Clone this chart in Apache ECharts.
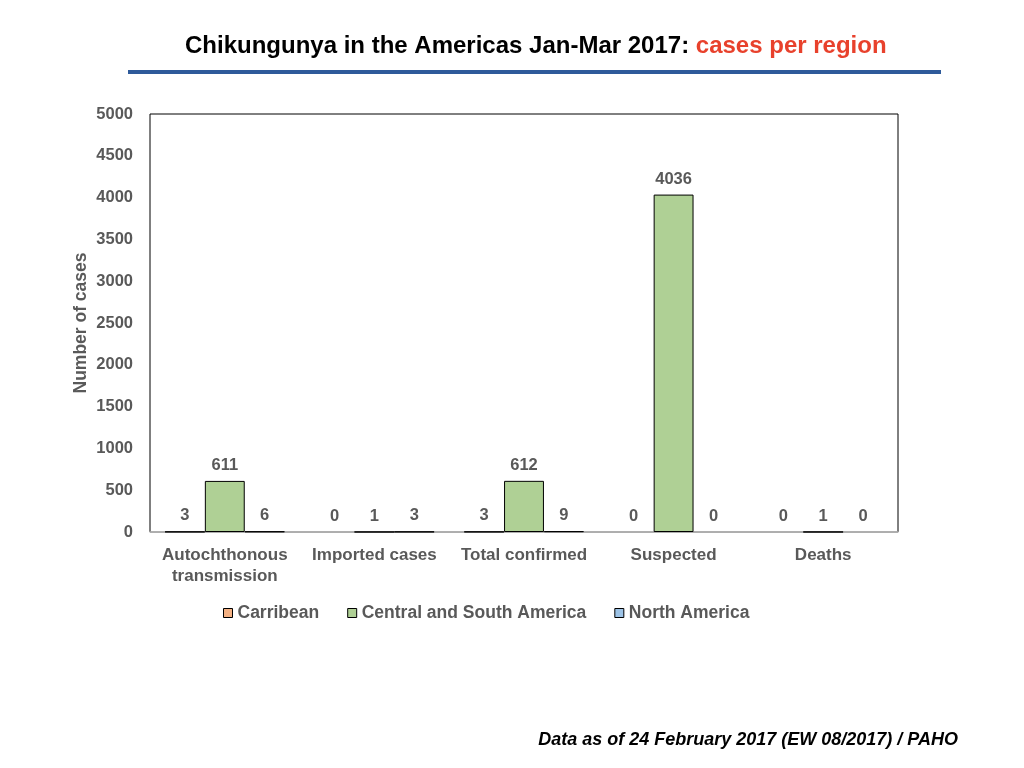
<!DOCTYPE html>
<html>
<head>
<meta charset="utf-8">
<script src="https://cdn.jsdelivr.net/npm/echarts@6/dist/echarts.min.js"></script>
<style>
html,body{margin:0;padding:0;background:#fff;}
#chart{width:1024px;height:768px;}
</style>
</head>
<body>
<div id="chart"></div>
<script>
var categories = ['Autochthonous\ntransmission', 'Imported cases', 'Total confirmed', 'Suspected', 'Deaths'];
var seriesNames = ['Carribean', 'Central and South America', 'North America'];
var carribean = [3, 0, 3, 0, 0];
var centralSouth = [611, 1, 612, 4036, 1];
var northAmerica = [6, 3, 9, 0, 0];
var yTicks = [0, 500, 1000, 1500, 2000, 2500, 3000, 3500, 4000, 4500, 5000];

var colors = ['#F4B183', '#AFD095', '#9DC3E6'];
var FONT = '"Liberation Sans", Arial, sans-serif';
var labelGray = '#595959';

function mk(name, vals, color) {
  return {
    name: name,
    type: 'bar',
    barGap: '0%',
    barCategoryGap: '20%',
    itemStyle: {color: color, borderColor: '#000', borderWidth: 1},
    label: {show: true, position: 'top', distance: 7, color: labelGray, fontWeight: 'bold', fontSize: 16.5, fontFamily: FONT},
    data: vals.map(function (v) {
      return v === 0 ? {value: v, itemStyle: {borderWidth: 0}} : v;
    })
  };
}

var chart = echarts.init(document.getElementById('chart'), null, {renderer: 'canvas'});
chart.setOption({
  animation: false,
  backgroundColor: '#fff',
  title: {
    text: '{a|Chikungunya in the Americas Jan-Mar 2017: }{b|cases per region}',
    left: 180,
    top: 29,
    textStyle: {
      rich: {
        a: {color: '#000', fontWeight: 'bold', fontSize: 24, fontFamily: FONT},
        b: {color: '#E8412C', fontWeight: 'bold', fontSize: 24, fontFamily: FONT}
      }
    }
  },
  graphic: [
    {type: 'rect', shape: {x: 128, y: 70, width: 813, height: 4}, style: {fill: '#2E5A9A'}},
    {type: 'text', right: 66, top: 731, style: {text: 'Data as of 24 February 2017 (EW 08/2017) / PAHO', fill: '#000', font: 'italic bold 18px "Liberation Sans", Arial, sans-serif'}}
  ],
  legend: {
    data: seriesNames,
    top: 599,
    left: 218,
    itemWidth: 9,
    itemHeight: 9,
    itemGap: 28,
    icon: 'rect',
    itemStyle: {borderColor: '#000', borderWidth: 1},
    textStyle: {color: labelGray, fontWeight: 'bold', fontSize: 17.5, fontFamily: FONT}
  },
  grid: {
    left: 150, right: 126, top: 114, bottom: 236,
    show: true, borderColor: '#000', borderWidth: 1
  },
  xAxis: {
    type: 'category',
    data: categories,
    axisLine: {show: true, lineStyle: {color: '#BFBFBF', width: 1.5}},
    axisTick: {show: false},
    axisLabel: {color: labelGray, fontWeight: 'bold', fontSize: 17, fontFamily: FONT, margin: 13, lineHeight: 21, interval: 0}
  },
  yAxis: {
    type: 'value',
    min: yTicks[0],
    max: yTicks[yTicks.length - 1],
    interval: yTicks[1] - yTicks[0],
    name: 'Number of cases',
    nameLocation: 'middle',
    nameGap: 60,
    nameMoveOverlap: false,
    nameTextStyle: {color: labelGray, fontWeight: 'bold', fontSize: 17.5, fontFamily: FONT},
    axisLine: {show: false},
    axisTick: {show: false},
    splitLine: {show: false},
    axisLabel: {color: labelGray, fontWeight: 'bold', fontSize: 16.5, fontFamily: FONT, margin: 17, formatter: function (v) { return String(v); }}
  },
  series: [
    mk(seriesNames[0], carribean, colors[0]),
    mk(seriesNames[1], centralSouth, colors[1]),
    mk(seriesNames[2], northAmerica, colors[2])
  ]
});
</script>
</body>
</html>
